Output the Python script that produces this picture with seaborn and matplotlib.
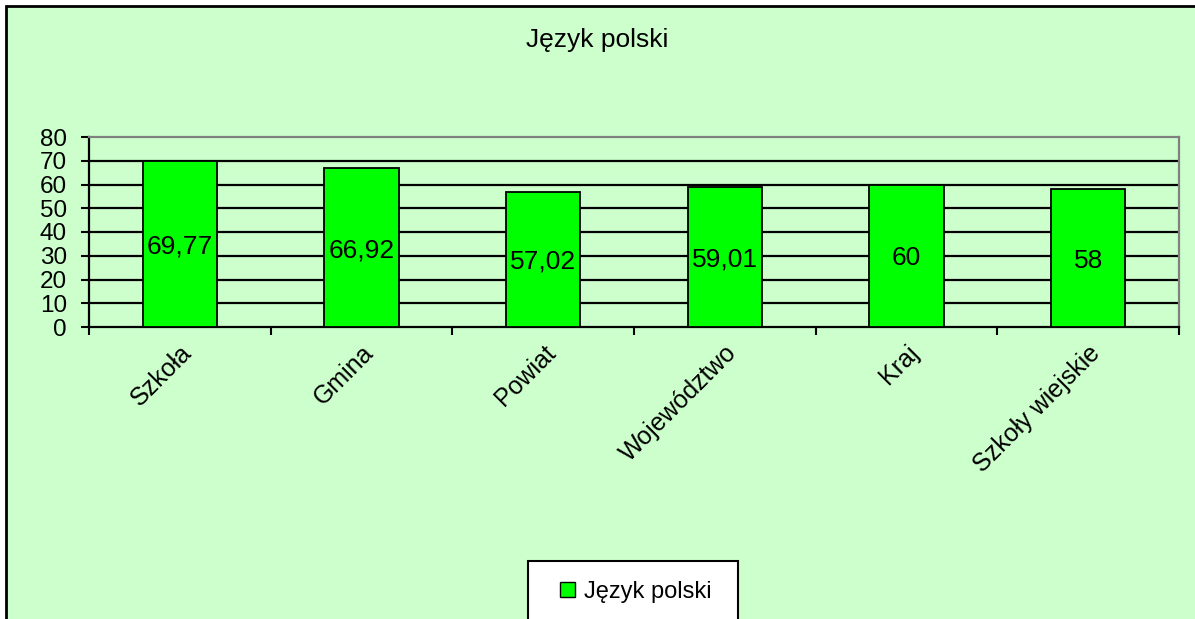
import matplotlib
matplotlib.use("Agg")
import matplotlib.pyplot as plt
import seaborn as sns
import pandas as pd
from matplotlib.patches import Rectangle

categories = ["Szkoła", "Gmina", "Powiat", "Województwo", "Kraj", "Szkoły wiejskie"]
values = [69.77, 66.92, 57.02, 59.01, 60, 58]
value_labels = ["69,77", "66,92", "57,02", "59,01", "60", "58"]
series_name = "Język polski"
yticks = [0, 10, 20, 30, 40, 50, 60, 70, 80]

sns.set_theme(style="white")
plt.rcParams['font.family'] = ['Liberation Sans', 'DejaVu Sans']
plt.rcParams['text.color'] = 'black'
plt.rcParams['xtick.color'] = 'black'
plt.rcParams['ytick.color'] = 'black'

W, H = 1195, 619
fig = plt.figure(figsize=(W / 100, H / 100), dpi=100, facecolor="white")

# chart area background with border (right and bottom edges are outside the image)
bg = Rectangle((6 / W, -0.5), 3.0, (H - 6) / H + 0.5, transform=fig.transFigure,
               facecolor="#CCFFCC", edgecolor="black", linewidth=2, zorder=-10)
fig.patches.append(bg)

ax = fig.add_axes([89 / W, 1 - 327 / H, (1179 - 89) / W, (327 - 137) / H])
ax.set_facecolor("#CCFFCC")

df = pd.DataFrame({"cat": categories, "val": values})
sns.barplot(data=df, x="cat", y="val", color="#00FF00", width=0.41,
            edgecolor="black", linewidth=1.3, saturation=1, ax=ax, zorder=3)

ax.set_ylim(0, 80)
ax.set_xlim(-0.5, len(categories) - 0.5)
ax.set_yticks(yticks)
ax.set_yticklabels([str(t) for t in yticks], fontsize=17.5)
for t in yticks[1:-1]:
    ax.axhline(t, color="black", linewidth=1.6, zorder=1)

ax.set_xticks(range(len(categories)))
ax.set_xticklabels(categories, rotation=45, ha="right", rotation_mode="anchor", fontsize=18)
ax.tick_params(axis="x", length=0, pad=10)
ax.set_xticks([i - 0.5 for i in range(len(categories) + 1)], minor=True)
ax.tick_params(axis="x", which="minor", length=6, width=1.5, color="black", direction="out", bottom=True)
ax.tick_params(axis="y", length=6, width=1.5, color="black", direction="out", left=True, pad=10)

ax.set_xlabel("")
ax.set_ylabel("")

for s in ["left", "bottom"]:
    ax.spines[s].set_color("black")
    ax.spines[s].set_linewidth(1.6)
for s in ["top", "right"]:
    ax.spines[s].set_visible(True)
    ax.spines[s].set_color("#808080")
    ax.spines[s].set_linewidth(1.6)

for i, (v, lab) in enumerate(zip(values, value_labels)):
    ax.text(i, v / 2, lab, ha="center", va="center_baseline", fontsize=19, color="black", zorder=5)

fig.text(0.5, 1 - 40 / H, series_name, ha="center", va="center", fontsize=19, color="black")

# legend frame
frame = Rectangle((528 / W, -0.1), (738 - 528) / W, 0.1 + (H - 561) / H, transform=fig.transFigure,
                  facecolor="white", edgecolor="black", linewidth=1.5, zorder=5)
fig.patches.append(frame)
handle = Rectangle((0, 0), 1, 1, facecolor="#00FF00", edgecolor="black", linewidth=1)
leg = fig.legend([handle], [series_name], loc="center", bbox_to_anchor=(636 / W, 1 - 592 / H),
                 fontsize=17, frameon=False, handlelength=0.6, handleheight=0.6,
                 handletextpad=0.4, borderpad=0, borderaxespad=0)
leg.set_zorder(10)

fig.savefig("out.png", dpi=100, facecolor="white")
